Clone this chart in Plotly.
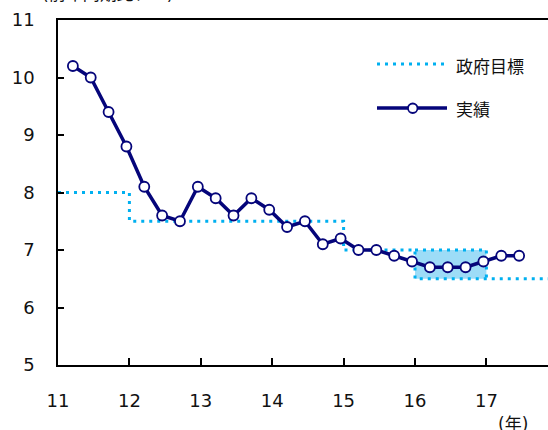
import plotly.graph_objects as go

# ---- data ----
quarters = ["2011Q1", "2011Q2", "2011Q3", "2011Q4",
            "2012Q1", "2012Q2", "2012Q3", "2012Q4",
            "2013Q1", "2013Q2", "2013Q3", "2013Q4",
            "2014Q1", "2014Q2", "2014Q3", "2014Q4",
            "2015Q1", "2015Q2", "2015Q3", "2015Q4",
            "2016Q1", "2016Q2", "2016Q3", "2016Q4",
            "2017Q1", "2017Q2"]
actual = [10.2, 10.0, 9.4, 8.8,
          8.1, 7.6, 7.5, 8.1,
          7.9, 7.6, 7.9, 7.7,
          7.4, 7.5, 7.1, 7.2,
          7.0, 7.0, 6.9, 6.8,
          6.7, 6.7, 6.7, 6.8,
          6.9, 6.9]
target_start = [11, 12, 15, 16, 17]
target_low = [8.0, 7.5, 7.0, 6.5, 6.5]
target_high = [8.0, 7.5, 7.0, 7.0, 6.5]
x_ticks = [11, 12, 13, 14, 15, 16, 17]
y_ticks = [5, 6, 7, 8, 9, 10, 11]

# ---- geometry ----
W, H = 548, 430
ML, MR, MT, MB = 58, 0, 20, 65
X0, X1 = 11, 11 + (W - ML - MR) / 71.4
PW, PH = W - ML - MR, H - MT - MB


def px(xp):
    return (xp - ML) / PW


def py(yp):
    return (H - MB - yp) / PH


# quarter-end month midpoint on a year axis (yy = 2-digit year)
def qpos(q):
    yy = int(q[2:4])
    qq = int(q[5])
    return yy + (3 * qq - 0.5) / 12


xs = [qpos(q) for q in quarters]

NAVY = "#05057A"
CYAN = "#00B0F0"
BAND = "#9DDCF7"
NUMF = "DejaVu Sans"
CJKF = "Noto Sans CJK JP"

fig = go.Figure()

# shaded band where high != low
for i in range(len(target_start) - 1):
    if target_high[i] != target_low[i]:
        a, b = target_start[i], target_start[i + 1]
        fig.add_trace(go.Scatter(
            x=[a, b, b, a], y=[target_low[i], target_low[i], target_high[i], target_high[i]],
            fill="toself", fillcolor=BAND, line=dict(width=0), mode="lines",
            hoverinfo="skip", showlegend=False))

dot = dict(color=CYAN, width=3, dash="3px,5px")

# lower step path
fig.add_trace(go.Scatter(
    x=target_start + [X1], y=target_low + [target_low[-1]],
    mode="lines", line=dict(shape="hv", **dot), showlegend=False))

# upper edges of bands
for i in range(len(target_start) - 1):
    if target_high[i] != target_low[i]:
        fig.add_trace(go.Scatter(
            x=[target_start[i], target_start[i + 1]],
            y=[target_high[i], target_low[i + 1]],
            mode="lines", line=dict(shape="hv", **dot), showlegend=False))

# actual
fig.add_trace(go.Scatter(
    x=xs, y=actual, mode="lines+markers",
    line=dict(color=NAVY, width=3.5),
    marker=dict(symbol="circle", size=10, color="white", line=dict(color=NAVY, width=1.8)),
    showlegend=False))

# ---- manual legend ----
shapes = [
    dict(type="line", xref="paper", yref="paper", x0=px(377), x1=px(444), y0=py(64), y1=py(64),
         line=dict(color=CYAN, width=3, dash="3px,5px")),
    dict(type="line", xref="paper", yref="paper", x0=px(377), x1=px(447), y0=py(108), y1=py(108),
         line=dict(color=NAVY, width=3.5)),
    dict(type="circle", xref="paper", yref="paper", x0=px(408), x1=px(417.5), y0=py(103.5), y1=py(113),
         fillcolor="white", line=dict(color=NAVY, width=1.8)),
]

annotations = [
    dict(text="政府目標", xref="paper", yref="paper", x=px(454), y=py(65), xanchor="left",
         yanchor="middle", showarrow=False, font=dict(family=CJKF, size=17, color="#111")),
    dict(text="実績", xref="paper", yref="paper", x=px(454), y=py(108), xanchor="left",
         yanchor="middle", showarrow=False, font=dict(family=CJKF, size=17, color="#111")),
    dict(text="(前年同期比、%)", xref="paper", yref="paper", x=px(40), y=py(-6), xanchor="left",
         yanchor="middle", showarrow=False, font=dict(family=NUMF + ", " + CJKF, size=17, color="#111")),
    dict(text="(年)", xref="paper", yref="paper", x=px(513), y=py(424), xanchor="center",
         yanchor="middle", showarrow=False, font=dict(family=NUMF + ", " + CJKF, size=17, color="#111")),
]

fig.update_layout(
    width=W, height=H,
    margin=dict(l=ML, r=MR, t=MT, b=MB, pad=0),
    paper_bgcolor="white", plot_bgcolor="white",
    shapes=shapes, annotations=annotations,
    showlegend=False,
    xaxis=dict(range=[X0, X1], tickvals=x_ticks, ticktext=[str(v) for v in x_ticks],
               ticks="inside", ticklen=7, tickwidth=1.5, tickcolor="black",
               showline=True, linecolor="black", linewidth=1.5, mirror=True,
               showgrid=False, zeroline=False,
               tickfont=dict(family=NUMF, size=18, color="#111"), ticklabelstandoff=19),
    yaxis=dict(range=[5, 11], tickvals=y_ticks, ticks="inside", ticklen=6, tickwidth=1.5,
               tickcolor="black", showline=True, linecolor="black", linewidth=1.5,
               showgrid=False, zeroline=False,
               tickfont=dict(family=NUMF, size=18, color="#111"), ticklabelstandoff=18),
)

fig.write_html("out.html", config={"displayModeBar": False},
               post_script="document.body.style.margin='0';document.body.style.overflow='hidden';")
